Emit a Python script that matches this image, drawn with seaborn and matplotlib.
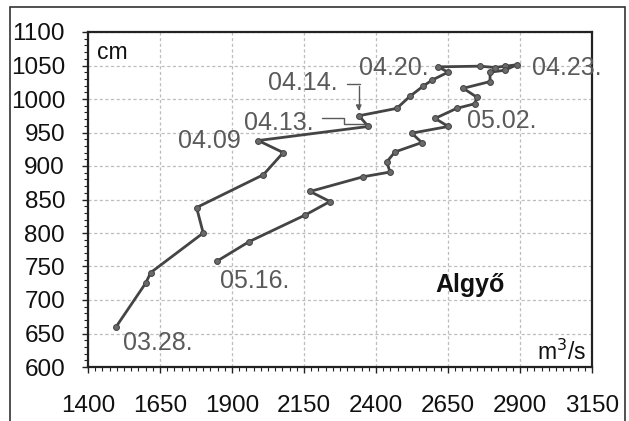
import matplotlib
matplotlib.use("Agg")
import matplotlib.pyplot as plt
from matplotlib.patches import Rectangle
from matplotlib.ticker import MultipleLocator
import numpy as np
import pandas as pd
import seaborn as sns

# Discharge (m3/s) and stage (cm) at Algyő, rising then falling limb of the flood
discharge = [1496, 1600, 1618, 1800, 1777, 2009, 2078, 1991, 2373, 2341,
             2472, 2518, 2563, 2594, 2650, 2616, 2761, 2813, 2848, 2888,
             2848, 2796, 2796, 2703, 2749, 2744, 2680, 2605, 2651, 2524,
             2559, 2466, 2437, 2449, 2356, 2171, 2240, 2155, 1959, 1848]
stage = [659, 725, 741, 800, 838, 887, 920, 938, 959, 975,
         986, 1004, 1019, 1028, 1040, 1048, 1049, 1047, 1049, 1051,
         1043, 1040, 1026, 1016, 1003, 993, 986, 971, 959, 949,
         935, 921, 906, 891, 884, 862, 847, 827, 787, 758]

# Dated points on the loop
date_labels = ["03.28.", "04.09", "04.13.", "04.14.", "04.20.", "04.23.", "05.02.", "05.16."]
date_q = [1496, 1991, 2373, 2341, 2616, 2888, 2651, 1848]
date_h = [659, 938, 959, 975, 1048, 1051, 959, 758]

x_ticks = [1400, 1650, 1900, 2150, 2400, 2650, 2900, 3150]
y_ticks = [600, 650, 700, 750, 800, 850, 900, 950, 1000, 1050, 1100]

sns.set_style("white")
plt.rcParams["font.family"] = ["Liberation Sans", "DejaVu Sans"]

df = pd.DataFrame({"Q": discharge, "H": stage, "order": np.arange(len(stage))})

fig = plt.figure(figsize=(6.29, 4.21), dpi=100)
fig.patches.append(Rectangle((10 / 629, -0.01), 615 / 629, 1 - 7 / 421 + 0.01,
                             transform=fig.transFigure, fill=False,
                             edgecolor="#333333", linewidth=1.2))
ax = fig.add_axes([88 / 629, 54 / 421, 504 / 629, 335 / 421])

line_col = "#444444"
sns.lineplot(data=df, x="Q", y="H", sort=False, estimator=None, ax=ax,
             color=line_col, linewidth=2.0, marker="o", markersize=4.2,
             markeredgecolor=line_col, markerfacecolor="#6a6a6a")

ax.set_xlim(x_ticks[0], x_ticks[-1])
ax.set_ylim(y_ticks[0], y_ticks[-1])
ax.set_xticks(x_ticks)
ax.set_yticks(y_ticks)
ax.xaxis.set_minor_locator(MultipleLocator(25))
ax.yaxis.set_minor_locator(MultipleLocator(10))
ax.tick_params(axis="both", which="both", bottom=True, left=True, top=False, right=False)
ax.tick_params(axis="both", which="major", direction="out", length=4.5, width=1,
               color="#222222", labelsize=17.5, labelcolor="#111111")
ax.tick_params(axis="both", which="minor", direction="out", length=2.6, width=0.8,
               color="#222222")
ax.tick_params(axis="x", which="major", pad=16)
ax.tick_params(axis="y", which="major", pad=12)
ax.set_xlabel("")
ax.set_ylabel("")
ax.grid(True, which="major", linestyle=(0, (2.5, 2)), color="#bdbdbd", linewidth=0.9)
for s in ax.spines.values():
    s.set_color("#222222")
    s.set_linewidth(1.6)

lab_kw = dict(fontsize=18, color="#5a5a5a", va="center")
ax.text(1522, 636, date_labels[0], ha="left", **lab_kw)
ax.text(1712, 938, date_labels[1], ha="left", **lab_kw)
ax.text(1940, 964, date_labels[2], ha="left", **lab_kw)
ax.text(2025, 1024, date_labels[3], ha="left", **lab_kw)
ax.text(2340, 1046, date_labels[4], ha="left", **lab_kw)
ax.text(2940, 1046, date_labels[5], ha="left", clip_on=False, **lab_kw)
ax.text(2715, 967, date_labels[6], ha="left", **lab_kw)
ax.text(1860, 728, date_labels[7], ha="left", **lab_kw)

# leader lines for the crowded 04.13 / 04.14 points
lead = dict(color="#5a5a5a", linewidth=1.0)
ax.plot([2212, 2290, 2290, 2368], [972, 972, 962, 962], **lead)
ax.annotate("", xy=(2340, 978), xytext=(2345, 1023),
            arrowprops=dict(arrowstyle="-|>", color="#5a5a5a", lw=1.0,
                            mutation_scale=8, connectionstyle="angle,angleA=0,angleB=90,rad=0"),
            annotation_clip=False)
ax.plot([2300, 2345], [1023, 1023], **lead)

ax.text(1430, 1069, "cm", fontsize=16.5, color="#111111", ha="left", va="center")
ax.text(2605, 723, "Algyő", fontsize=18, fontweight="bold", color="#111111",
        ha="left", va="center")
ax.text(3130, 622, "m$^3$/s", fontsize=16.5, color="#111111", ha="right", va="center")

fig.savefig("out.png", dpi=100, facecolor="white")
